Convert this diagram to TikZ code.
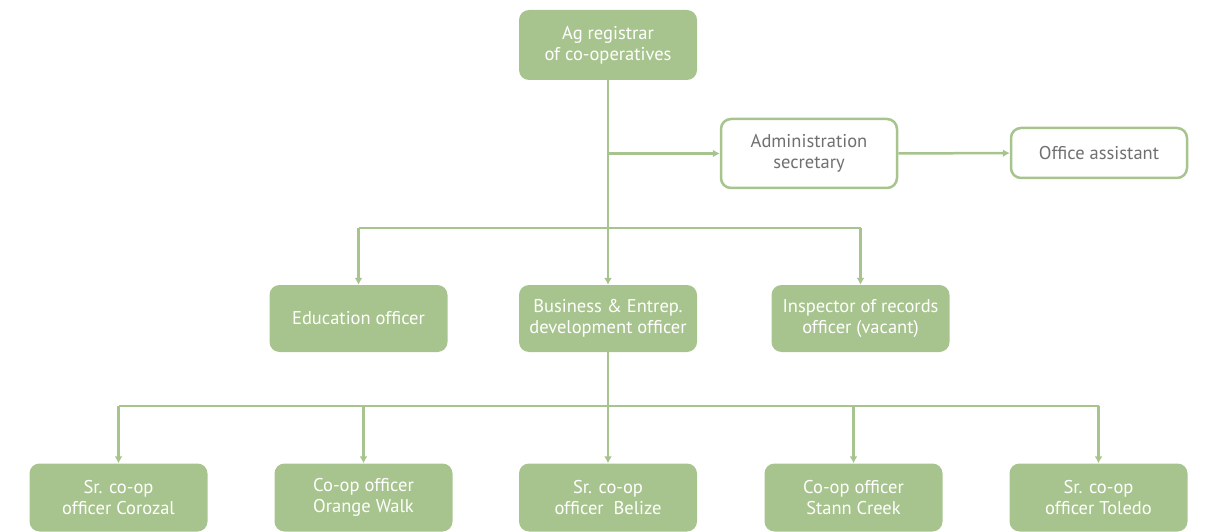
\documentclass[tikz,border=0pt]{standalone}
\usepackage{fontspec}
\setmainfont{PT Sans}
\usepackage{xcolor}
\usepackage{tikz}
\usetikzlibrary{arrows.meta,positioning,calc}
\definecolor{leaf}{RGB}{168,196,142}
\definecolor{ink}{RGB}{112,112,112}

\begin{document}
\begin{tikzpicture}[x=1pt,y=-1pt]
\tikzset{box/.style={rectangle,rounded corners=10pt,fill=leaf,text=white,minimum width=178pt,minimum height=68pt,align=center,inner sep=0pt,font=\fontsize{18.5}{21}\selectfont}}
\tikzset{openbox/.style={box,fill=white,draw=leaf,line width=2.5pt,text=ink,minimum width=176pt}}
\tikzset{wire/.style={draw=leaf,line width=2.5pt}}
\tikzset{link/.style={wire,-{Latex[length=7pt,width=8pt]}}}
\useasboundingbox (0,0) rectangle (1208,532);
% top
\node[box,minimum height=70pt] (reg) at (608,45) {Ag registrar\\of co-operatives};
\node[openbox,minimum height=69pt] (adm) at (809,153.5) {Administration\\secretary};
\node[openbox,minimum height=50pt] (ast) at (1099,153) {Office assistant};
% middle row
\node[box,minimum height=67pt] (edu) at (358.5,318.5) {Education officer};
\node[box,minimum height=67pt] (bus) at (608,318.5) {Business \& Entrep.\\development officer};
\node[box,minimum height=67pt] (ins) at (860.5,318.5) {Inspector of records\\officer (vacant)};
% bottom row
\node[box] (coro) at (118.5,497.5) {Sr. co-op\\officer Corozal};
\node[box] (orw) at (363.5,497.5) {Co-op officer\\Orange Walk};
\node[box] (blz) at (608,497.5) {Sr. co-op\\officer\ \ Belize};
\node[box] (stc) at (853.5,497.5) {Co-op officer\\Stann Creek};
\node[box] (tol) at (1098.5,497.5) {Sr. co-op\\officer Toledo};
% connectors
\coordinate (bar1) at (608,228);
\coordinate (bar2) at (608,406);
\draw[link] (reg) -- (bus);
\draw[link] (reg.south |- adm.west) -- (adm.west);
\draw[link] (adm) -- (ast);
\draw[wire] (edu.north |- bar1) -- (ins.north |- bar1);
\draw[link] (edu.north |- bar1) -- (edu.north);
\draw[link] (ins.north |- bar1) -- (ins.north);
\draw[wire] (bus.south) -- (bar2);
\draw[wire] (coro.north |- bar2) -- (tol.north |- bar2);
\foreach \n in {coro,orw,blz,stc,tol}
  \draw[link] (\n.north |- bar2) -- (\n.north);
\end{tikzpicture}
\end{document}
